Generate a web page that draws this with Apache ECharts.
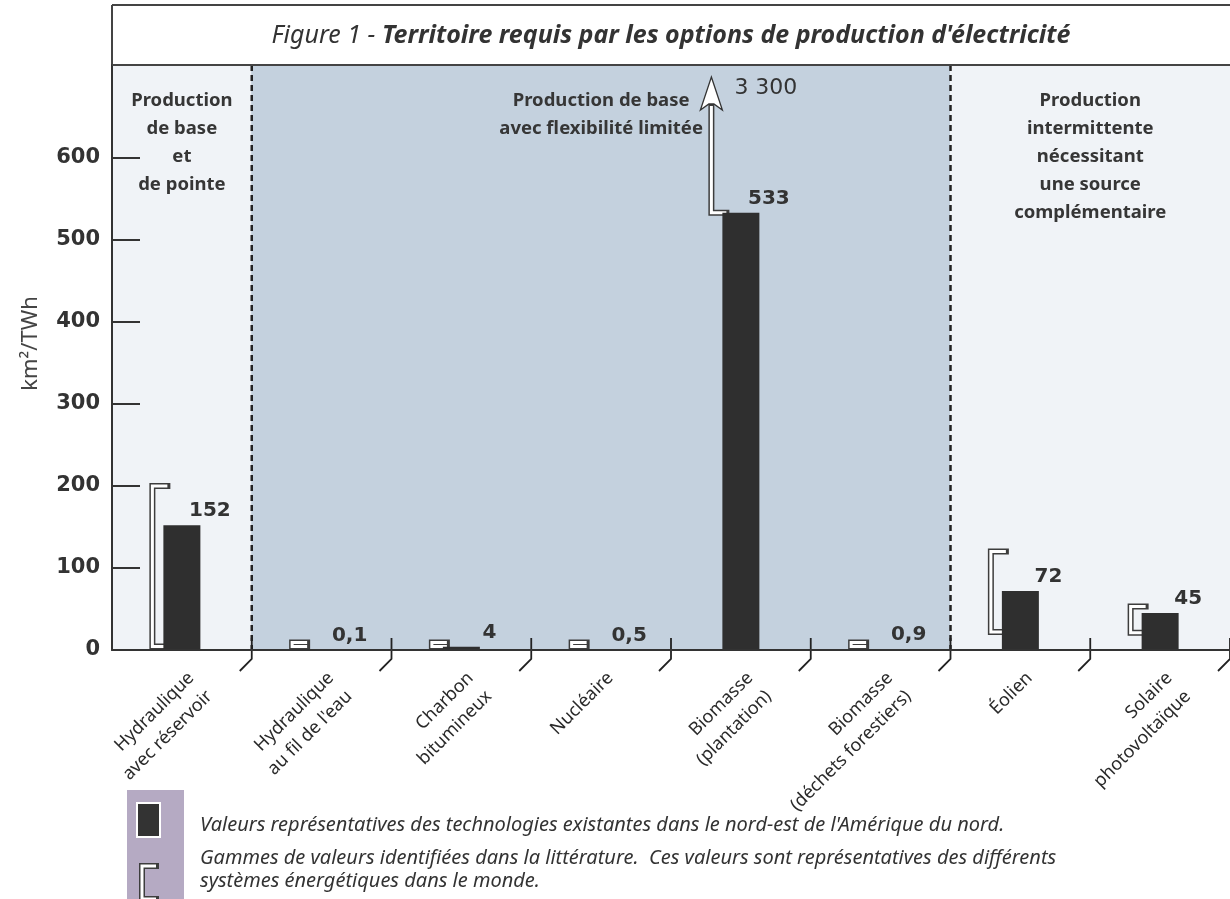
<!DOCTYPE html>
<html>
<head>
<meta charset="utf-8">
<script src="https://cdn.jsdelivr.net/npm/echarts@6/dist/echarts.min.js"></script>
<style>
html,body{margin:0;padding:0;background:#fff;}
#chart{width:1230px;height:899px;}
</style>
</head>
<body>
<div id="chart"></div>
<script>
// ---------- data ----------
const categories = [
  'Hydraulique\navec réservoir',
  "Hydraulique\nau fil de l'eau",
  'Charbon\nbitumineux',
  'Nucléaire',
  'Biomasse\n(plantation)',
  'Biomasse\n(déchets forestiers)',
  'Éolien',
  'Solaire\nphotovoltaïque'
];
const values = [152, 0.1, 4, 0.5, 533, 0.9, 72, 45];           // km²/TWh, representative values
const rangeLow = [0, 0, 0, 0, 533, 0, 22, 21];                   // literature range, low end
const rangeHigh = [200, 1, 7, 1, 3300, 1, 120, 53];             // literature range, high end
const yTickValues = [0, 100, 200, 300, 400, 500, 600];
const regionTitles = [
  'Production\nde base\net\nde pointe',
  'Production de base\navec flexibilité limitée',
  'Production\nintermittente\nnécessitant\nune source\ncomplémentaire'
];
const regionStart = [0, 1, 6];
const regionEnd = [0, 5, 7];
const titleA = 'Figure 1 - ';
const titleB = "Territoire requis par les options de production d'électricité";
const legendText1 = "Valeurs représentatives des technologies existantes dans le nord-est de l'Amérique du nord.";
const legendText2 = 'Gammes de valeurs identifiées dans la littérature.  Ces valeurs sont représentatives des différents';
const legendText3 = 'systèmes énergétiques dans le monde.';
const yName = 'km²/TWh';

// ---------- style ----------
const FONT = "'Noto Sans', sans-serif";
const NUMFONT = "'DejaVu Sans', sans-serif";
const Y_MAX = 713;
const BAR_W = 37;
const shadeLight = '#f0f3f7';
const shadeMid = '#c4d1de';
const regionShade = [shadeLight, shadeMid, shadeLight];

function fmtVal(v) {
  if (v >= 1000) {
    const s = String(Math.round(v));
    return s.replace(/\B(?=(\d{3})+(?!\d))/g, ' ');
  }
  return String(v).replace('.', ',');
}
function regionOf(i) {
  for (let r = 0; r < regionStart.length; r++) {
    if (i >= regionStart[r] && i <= regionEnd[r]) return r;
  }
  return 0;
}

function renderDecor(params, api) {
  const i = api.value(0);
  const cs = params.coordSys;
  const c = api.coord([i, 0]);
  const band = api.size([1, 0])[0];
  const xL = c[0] - band / 2, xR = c[0] + band / 2;
  const y0 = c[1];
  const r = regionOf(i);
  const children = [];
  children.push({
    type: 'rect',
    shape: { x: xL - 0.5, y: cs.y, width: band + 1, height: y0 - cs.y },
    style: { fill: regionShade[r] }
  });
  if (i === regionEnd[r] && r < regionStart.length - 1) {
    children.push({
      type: 'line',
      shape: { x1: xR, y1: cs.y, x2: xR, y2: y0 },
      style: { stroke: '#222', lineWidth: 2.5, lineDash: [6, 4] },
      z2: 5
    });
  }
  children.push({
    type: 'polyline',
    shape: { points: [[xR, y0 - 12], [xR, y0 + 9], [xR - 12, y0 + 21]] },
    style: { stroke: '#222', lineWidth: 1.8, fill: null },
    z2: 6
  });
  if (i === regionStart[r]) {
    const a = api.coord([regionStart[r], 0])[0] - band / 2;
    const b = api.coord([regionEnd[r], 0])[0] + band / 2;
    children.push({
      type: 'text',
      x: (a + b) / 2,
      y: cs.y + 22,
      style: {
        text: regionTitles[r],
        align: 'center',
        verticalAlign: 'top',
        fontFamily: FONT,
        fontWeight: 'bold',
        fontSize: 18.5,
        lineHeight: 28,
        fill: '#363636'
      },
      z2: 7
    });
  }
  return { type: 'group', children: children };
}

function bracketPieces(points) {
  return [
    { type: 'polyline', shape: { points: points },
      style: { stroke: '#3d3d3d', lineWidth: 6, fill: null, lineJoin: 'miter', lineCap: 'square' } },
    { type: 'polyline', shape: { points: points },
      style: { stroke: '#ffffff', lineWidth: 3, fill: null, lineJoin: 'miter', lineCap: 'butt' } }
  ];
}

function renderRange(params, api) {
  const i = api.value(0), lo = api.value(1), hi = api.value(2);
  const cs = params.coordSys;
  const base = api.coord([i, 0]);
  const cx = base[0], y0 = base[1];
  const barL = cx - BAR_W / 2;
  const xv = barL - 11, xa = barL + 4;
  const yLo = Math.min(api.coord([i, lo])[1], y0 - 3.5);
  let children = [];
  if (hi > Y_MAX) {
    const tip = cs.y + 12;
    const headBase = tip + 33;
    children = children.concat(bracketPieces([[xa, yLo], [xv, yLo], [xv, headBase - 4]]));
    children.push({
      type: 'polygon',
      shape: { points: [[xv, tip], [xv + 11, headBase], [xv + 2.5, headBase - 6], [xv - 2.5, headBase - 6], [xv - 11, headBase]] },
      style: { fill: '#fff', stroke: '#333', lineWidth: 1.3 }
    });
    children.push({
      type: 'text',
      x: xv + 23, y: tip + 11,
      style: { text: fmtVal(hi), align: 'left', verticalAlign: 'middle', fontFamily: NUMFONT, fontSize: 22, fill: '#333' }
    });
  } else {
    const yHi = Math.min(api.coord([i, hi])[1], yLo - 4);
    children = children.concat(bracketPieces([[xa, yHi], [xv, yHi], [xv, yLo], [xa, yLo]]));
  }
  return { type: 'group', children: children };
}

const chart = echarts.init(document.getElementById('chart'), null, { renderer: 'canvas' });

const decorData = categories.map((c, i) => [i, 0]);
const rangeData = categories.map((c, i) => [i, rangeLow[i], rangeHigh[i]]);

function legendBracket(x1, x2, yTop, yBot) {
  const pts = [[x2, yTop], [x1, yTop], [x1, yBot], [x2, yBot]];
  return [
    { type: 'polyline', shape: { points: pts }, style: { stroke: '#3d3d3d', lineWidth: 6, fill: null, lineCap: 'square' } },
    { type: 'polyline', shape: { points: pts }, style: { stroke: '#fff', lineWidth: 3, fill: null } }
  ];
}

const option = {
  animation: false,
  backgroundColor: '#ffffff',
  grid: { left: 112, right: 0, top: 65, bottom: 249, containLabel: false },
  xAxis: {
    type: 'category',
    data: categories,
    z: 10,
    axisLine: { lineStyle: { color: '#333', width: 2 } },
    axisTick: { show: false },
    axisLabel: {
      interval: 0,
      rotate: 45,
      margin: 16,
      align: 'right',
      verticalAlign: 'top',
      fontFamily: FONT,
      fontSize: 18,
      lineHeight: 26,
      color: '#2a2a2a'
    }
  },
  yAxis: {
    type: 'value',
    min: 0,
    max: Y_MAX,
    interval: 100,
    z: 10,
    name: yName,
    nameLocation: 'middle',
    nameGap: 70,
    nameTextStyle: { fontFamily: FONT, fontSize: 22, color: '#444', padding: [0, 0, 0, 28] },
    axisLine: { show: true, lineStyle: { color: '#333', width: 2 } },
    axisTick: { show: true, inside: true, length: 28, customValues: yTickValues.filter(v => v > 0), lineStyle: { color: '#333', width: 2 } },
    axisLabel: {
      customValues: yTickValues,
      margin: 12,
      fontFamily: NUMFONT,
      fontWeight: 'bold',
      fontSize: 21,
      color: '#333'
    },
    splitLine: { show: false }
  },
  series: [
    {
      type: 'custom',
      name: 'decor',
      z: 1,
      silent: true,
      renderItem: renderDecor,
      data: decorData,
      encode: { x: 0, y: 1 }
    },
    {
      type: 'custom',
      name: 'gammes',
      z: 3,
      renderItem: renderRange,
      data: rangeData,
      encode: { x: 0, y: [1, 2] }
    },
    {
      type: 'bar',
      name: 'valeurs',
      z: 4,
      data: values,
      barWidth: BAR_W,
      itemStyle: { color: '#2f2f2f' },
      label: {
        show: true,
        position: 'top',
        distance: 4,
        offset: [28, 0],
        formatter: p => fmtVal(p.value),
        fontFamily: NUMFONT,
        fontWeight: 'bold',
        fontSize: 20,
        color: '#333'
      }
    }
  ],
  graphic: [
    { type: 'line', shape: { x1: 112, y1: 5, x2: 1230, y2: 5 }, style: { stroke: '#444', lineWidth: 2 } },
    { type: 'line', shape: { x1: 112, y1: 5, x2: 112, y2: 65 }, style: { stroke: '#444', lineWidth: 2 } },
    { type: 'line', shape: { x1: 112, y1: 65, x2: 1230, y2: 65 }, style: { stroke: '#444', lineWidth: 2 }, z: 20 },
    {
      type: 'text', x: 671, y: 36,
      style: {
        text: '{a|' + titleA + '}{b|' + titleB + '}',
        align: 'center', verticalAlign: 'middle',
        rich: {
          a: { fontFamily: FONT, fontStyle: 'italic', fontSize: 25, fill: '#333', color: '#333' },
          b: { fontFamily: FONT, fontStyle: 'italic', fontWeight: 'bold', fontSize: 25, fill: '#333', color: '#333' }
        }
      }
    },
    { type: 'rect', shape: { x: 127, y: 790, width: 57, height: 109 }, style: { fill: '#b5aac3' } },
    { type: 'rect', shape: { x: 137, y: 803, width: 23, height: 34 }, style: { fill: '#333', stroke: '#fff', lineWidth: 2 } },
    { type: 'group', children: legendBracket(142, 156, 866, 899) },
    { type: 'text', x: 200, y: 825, style: { text: legendText1, fontFamily: FONT, fontStyle: 'italic', fontSize: 20, fill: '#333', verticalAlign: 'middle' } },
    { type: 'text', x: 200, y: 858, style: { text: legendText2, fontFamily: FONT, fontStyle: 'italic', fontSize: 20, fill: '#333', verticalAlign: 'middle' } },
    { type: 'text', x: 200, y: 881, style: { text: legendText3, fontFamily: FONT, fontStyle: 'italic', fontSize: 20, fill: '#333', verticalAlign: 'middle' } }
  ]
};
chart.setOption(option);
</script>
</body>
</html>
